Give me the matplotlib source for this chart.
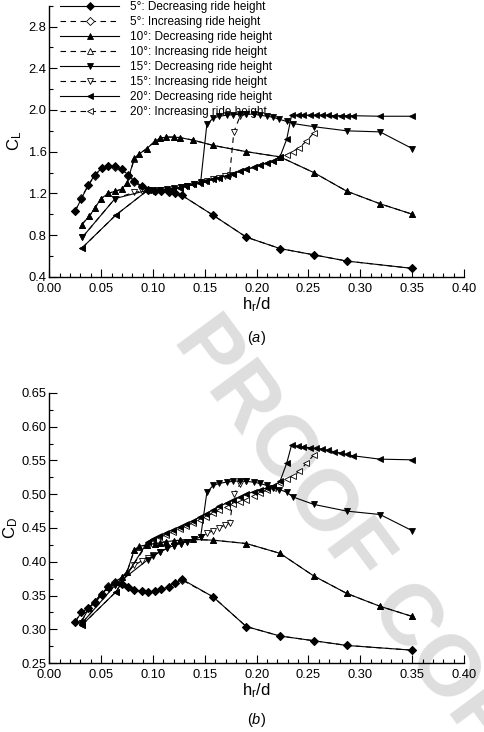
import matplotlib
matplotlib.use("Agg")
import matplotlib.pyplot as plt
from matplotlib.ticker import MultipleLocator, FormatStrFormatter
from matplotlib.lines import Line2D

plt.rcParams['font.family'] = ['Liberation Sans', 'DejaVu Sans']
plt.rcParams['mathtext.fontset'] = 'custom'
plt.rcParams['mathtext.rm'] = 'Liberation Sans'
plt.rcParams['mathtext.it'] = 'Liberation Sans:italic'
plt.rcParams['mathtext.default'] = 'regular'

# ---------------- data ----------------
labels = ["5°: Decreasing ride height", "5°: Increasing ride height",
          "10°: Decreasing ride height", "10°: Increasing ride height",
          "15°: Decreasing ride height", "15°: Increasing ride height",
          "20°: Decreasing ride height", "20°: Increasing ride height"]

# 5 deg decreasing
x5d = [0.350, 0.287, 0.255, 0.2225, 0.190, 0.158, 0.128, 0.121, 0.115, 0.108, 0.102, 0.0955,
       0.089, 0.082, 0.076, 0.0698, 0.063, 0.057, 0.0505, 0.044, 0.0377, 0.031, 0.025]
cl5d = [0.48, 0.55, 0.61, 0.67, 0.78, 0.99, 1.18, 1.20, 1.21, 1.22, 1.22, 1.23,
        1.27, 1.32, 1.38, 1.43, 1.46, 1.46, 1.44, 1.38, 1.28, 1.15, 1.03]
cd5d = [0.269, 0.276, 0.283, 0.290, 0.304, 0.348, 0.374, 0.369, 0.363, 0.359, 0.357, 0.355,
        0.356, 0.358, 0.363, 0.367, 0.369, 0.363, 0.351, 0.339, 0.331, 0.325, 0.311]

# 5 deg increasing
x5i = [0.025, 0.031, 0.0377, 0.044, 0.0505, 0.057, 0.063, 0.0698, 0.076, 0.082, 0.089, 0.0955,
       0.102, 0.108, 0.115, 0.121, 0.128, 0.158, 0.190, 0.2225, 0.255, 0.287, 0.350]
cl5i = [1.03, 1.16, 1.28, 1.37, 1.44, 1.46, 1.455, 1.43, 1.37, 1.31, 1.26, 1.235,
        1.225, 1.22, 1.21, 1.20, 1.18, 0.99, 0.78, 0.67, 0.61, 0.55, 0.48]
cd5i = [0.311, 0.326, 0.332, 0.340, 0.352, 0.364, 0.370, 0.367, 0.362, 0.358, 0.356, 0.355,
        0.357, 0.359, 0.363, 0.368, 0.373, 0.348, 0.304, 0.290, 0.283, 0.276, 0.269]

# 10 deg decreasing
x10d = [0.350, 0.319, 0.287, 0.255, 0.2225, 0.190, 0.158, 0.139, 0.126, 0.120, 0.113, 0.107,
        0.102, 0.094, 0.087, 0.082, 0.075, 0.0698, 0.0634, 0.057, 0.0499, 0.044, 0.0386, 0.0312]
cl10d = [1.00, 1.10, 1.22, 1.40, 1.55, 1.60, 1.66, 1.71, 1.735, 1.74, 1.74, 1.73,
         1.70, 1.63, 1.58, 1.54, 1.30, 1.24, 1.22, 1.20, 1.15, 1.06, 0.98, 0.90]
cd10d = [0.319, 0.334, 0.353, 0.379, 0.4125, 0.427, 0.432, 0.433, 0.432, 0.431, 0.430, 0.428,
         0.427, 0.425, 0.423, 0.418, 0.385, 0.377, 0.370, 0.362, 0.352, 0.342, 0.332, 0.312]

# 10 deg increasing
x10i = [0.0312, 0.0386, 0.044, 0.0499, 0.057, 0.0634, 0.0698, 0.075, 0.082, 0.087, 0.094, 0.102,
        0.107, 0.113, 0.120, 0.126, 0.139, 0.158, 0.190, 0.2225, 0.255, 0.287, 0.319, 0.350]
cl10i = [0.90, 0.98, 1.06, 1.15, 1.20, 1.22, 1.24, 1.30, 1.53, 1.58, 1.63, 1.70,
         1.73, 1.74, 1.74, 1.735, 1.71, 1.66, 1.60, 1.55, 1.40, 1.22, 1.10, 1.00]
cd10i = [0.312, 0.332, 0.342, 0.352, 0.362, 0.370, 0.377, 0.385, 0.417, 0.422, 0.425, 0.427,
         0.428, 0.430, 0.431, 0.432, 0.433, 0.432, 0.427, 0.4125, 0.379, 0.353, 0.334, 0.319]

# 15 deg decreasing
x15d = [0.350, 0.319, 0.287, 0.255, 0.235, 0.229, 0.222, 0.216, 0.210, 0.203, 0.197, 0.190,
        0.184, 0.177, 0.171, 0.164, 0.158, 0.152, 0.146, 0.140, 0.133, 0.127, 0.120, 0.114,
        0.107, 0.100, 0.095, 0.0634, 0.032]
cl15d = [1.63, 1.79, 1.80, 1.84, 1.87, 1.89, 1.91, 1.93, 1.94, 1.95, 1.96, 1.96,
         1.96, 1.955, 1.95, 1.94, 1.92, 1.865, 1.31, 1.29, 1.275, 1.26, 1.25, 1.24,
         1.235, 1.23, 1.23, 1.15, 0.78]
cd15d = [0.446, 0.470, 0.475, 0.485, 0.496, 0.503, 0.507, 0.510, 0.513, 0.516, 0.518, 0.519,
         0.520, 0.519, 0.518, 0.516, 0.513, 0.503, 0.437, 0.433, 0.430, 0.427, 0.424, 0.420,
         0.415, 0.408, 0.403, 0.365, 0.310]

# 15 deg increasing
x15i = [0.032, 0.0634, 0.082, 0.089, 0.095, 0.100, 0.107, 0.114, 0.120, 0.127, 0.133, 0.140,
        0.146, 0.152, 0.158, 0.164, 0.169, 0.174, 0.178, 0.184, 0.190]
cl15i = [0.78, 1.15, 1.21, 1.22, 1.23, 1.225, 1.23, 1.235, 1.245, 1.26, 1.27, 1.285,
         1.30, 1.315, 1.335, 1.35, 1.365, 1.38, 1.79, 1.94, 1.96]
cd15i = [0.310, 0.365, 0.395, 0.401, 0.406, 0.410, 0.415, 0.420, 0.424, 0.427, 0.430, 0.433,
         0.437, 0.442, 0.446, 0.450, 0.454, 0.457, 0.500, 0.515, 0.519]

# 20 deg decreasing
x20d = [0.350, 0.319, 0.293, 0.287, 0.281, 0.275, 0.269, 0.263, 0.257, 0.251, 0.245, 0.2395,
        0.2337, 0.229, 0.2225, 0.216, 0.210, 0.203, 0.197, 0.190, 0.184, 0.177, 0.171, 0.164,
        0.158, 0.151, 0.145, 0.139, 0.132, 0.126, 0.119, 0.113, 0.106, 0.100, 0.095, 0.064, 0.032]
cl20d = [1.94, 1.94, 1.945, 1.945, 1.945, 1.945, 1.95, 1.95, 1.95, 1.95, 1.95, 1.95,
         1.95, 1.72, 1.55, 1.51, 1.49, 1.47, 1.45, 1.43, 1.41, 1.39, 1.37, 1.35,
         1.335, 1.315, 1.30, 1.285, 1.27, 1.255, 1.245, 1.235, 1.23, 1.225, 1.23, 0.99, 0.68]
cd20d = [0.551, 0.552, 0.557, 0.559, 0.561, 0.563, 0.565, 0.567, 0.568, 0.569, 0.570, 0.571,
         0.573, 0.546, 0.519, 0.512, 0.509, 0.507, 0.504, 0.500, 0.496, 0.491, 0.487, 0.482,
         0.477, 0.471, 0.466, 0.461, 0.456, 0.452, 0.447, 0.443, 0.438, 0.434, 0.430, 0.355, 0.307]

# 20 deg increasing
x20i = [0.032, 0.064, 0.095, 0.100, 0.106, 0.113, 0.119, 0.126, 0.132, 0.139, 0.145, 0.151,
        0.158, 0.164, 0.171, 0.177, 0.184, 0.190, 0.197, 0.203, 0.210, 0.216, 0.2225, 0.229,
        0.235, 0.241, 0.248, 0.255]
cl20i = [0.68, 0.99, 1.23, 1.225, 1.23, 1.235, 1.245, 1.255, 1.27, 1.285, 1.30, 1.315,
         1.335, 1.35, 1.37, 1.39, 1.41, 1.43, 1.45, 1.47, 1.49, 1.51, 1.55, 1.57,
         1.60, 1.64, 1.70, 1.78]
cd20i = [0.307, 0.355, 0.428, 0.432, 0.436, 0.440, 0.444, 0.449, 0.453, 0.458, 0.462, 0.467,
         0.472, 0.476, 0.481, 0.486, 0.489, 0.492, 0.497, 0.502, 0.506, 0.510, 0.516, 0.522,
         0.527, 0.534, 0.546, 0.558]

xs = [x5d, x5i, x10d, x10i, x15d, x15i, x20d, x20i]
cls = [cl5d, cl5i, cl10d, cl10i, cl15d, cl15i, cl20d, cl20i]
cds = [cd5d, cd5i, cd10d, cd10i, cd15d, cd15i, cd20d, cd20i]

x_ticks = [0.00, 0.05, 0.10, 0.15, 0.20, 0.25, 0.30, 0.35, 0.40]
cl_ticks = [0.4, 0.8, 1.2, 1.6, 2.0, 2.4, 2.8]
cd_ticks = [0.25, 0.30, 0.35, 0.40, 0.45, 0.50, 0.55, 0.60, 0.65]

# ---------------- styles ----------------
markers = ['D', 'D', '^', '^', 'v', 'v', '<', '<']
msizes = [4.2, 4.2, 4.8, 4.8, 4.8, 4.8, 4.8, 4.8]
filled = [True, False, True, False, True, False, True, False]
DASH = (0, (5, 4))


def style(i):
    return dict(color='black', lw=0.8,
                ls='-' if filled[i] else DASH,
                marker=markers[i], ms=msizes[i],
                mfc='black' if filled[i] else 'white', mec='black', mew=0.6)


W, H = 484, 732
fig = plt.figure(figsize=(W / 100, H / 100), dpi=100)

# watermark
fig.text(172 / W, 1 - 340 / H, 'PROOF COPY', rotation=-53.5, rotation_mode='anchor',
         ha='left', va='baseline', fontsize=62, fontweight='bold', color='#dedede', zorder=-5)

ax1 = fig.add_axes([49.3 / W, 1 - 276.7 / H, (464 - 49.3) / W, (276.7 - 5.8) / H])
ax2 = fig.add_axes([49.3 / W, 1 - 663 / H, (464 - 49.3) / W, (663 - 393) / H])

order = [1, 3, 5, 7, 0, 2, 4, 6]
for ax, ys in ((ax1, cls), (ax2, cds)):
    for i in order:
        ax.plot(xs[i], ys[i], **style(i), zorder=3 if filled[i] else 2)

for ax in (ax1, ax2):
    ax.set_facecolor('none')
    ax.spines['top'].set_visible(False)
    ax.spines['right'].set_visible(False)
    ax.spines['left'].set_linewidth(1.0)
    ax.spines['bottom'].set_linewidth(1.0)
    ax.set_xlim(0.0, 0.40)
    ax.set_xticks(x_ticks)
    ax.xaxis.set_major_formatter(FormatStrFormatter('%.2f'))
    ax.xaxis.set_minor_locator(MultipleLocator(0.01))
    ax.tick_params(which='both', direction='in', labelsize=9.3, width=0.8, pad=2)
    ax.tick_params(axis='x', which='major', pad=4.5)
    ax.tick_params(which='major', length=6)
    ax.tick_params(which='minor', length=3)
    ax.set_xlabel('h$_r$/d', fontsize=12, labelpad=0)

ax1.set_ylim(0.4, 3.0)
ax1.set_yticks(cl_ticks)
ax1.yaxis.set_major_formatter(FormatStrFormatter('%.1f'))
ax1.yaxis.set_minor_locator(MultipleLocator(0.2))
ax1.set_ylabel('C$_L$', fontsize=12, labelpad=3)

ax2.set_ylim(0.25, 0.65)
ax2.set_yticks(cd_ticks)
ax2.yaxis.set_major_formatter(FormatStrFormatter('%.2f'))
ax2.yaxis.set_minor_locator(MultipleLocator(0.025))
ax2.set_ylabel('C$_D$', fontsize=12, labelpad=1)

handles = [Line2D([], [], **style(i)) for i in range(8)]
ax1.legend(handles, labels, loc='upper left', bbox_to_anchor=(60 / W, 1 - 1.0 / H),
           bbox_transform=fig.transFigure, frameon=False, fontsize=8.5,
           handlelength=5.0, handletextpad=0.9, labelspacing=0.26,
           borderpad=0, borderaxespad=0)

fig.text(256.7 / W, 1 - 338 / H, '($\\it{a}$)', ha='center', va='center', fontsize=10.5)
fig.text(256.7 / W, 1 - 720 / H, '($\\it{b}$)', ha='center', va='center', fontsize=10.5)

fig.savefig('out.png', dpi=100)
